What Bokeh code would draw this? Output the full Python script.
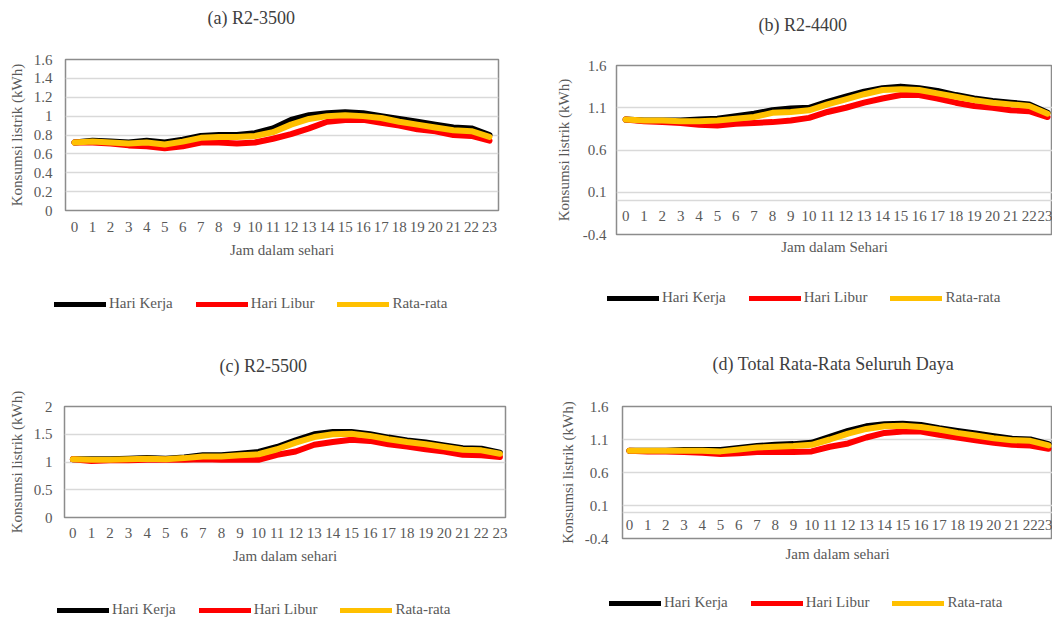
from bokeh.plotting import figure
from bokeh.models import (Range1d, FixedTicker, NumeralTickFormatter, Legend,
                          LegendItem, LinearAxis)
from bokeh.embed import file_html
from bokeh.resources import INLINE

hours = list(range(24))
series_names = ["Hari Kerja", "Hari Libur", "Rata-rata"]

a_title = "(a) R2-3500"
a_kerja = [0.72, 0.74, 0.73, 0.72, 0.74, 0.72, 0.75, 0.79, 0.80, 0.80, 0.82, 0.87,
           0.96, 1.01, 1.03, 1.04, 1.03, 1.00, 0.97, 0.94, 0.91, 0.88, 0.87, 0.80]
a_libur = [0.72, 0.72, 0.71, 0.69, 0.68, 0.66, 0.68, 0.72, 0.72, 0.71, 0.72, 0.76,
           0.81, 0.87, 0.94, 0.96, 0.96, 0.93, 0.90, 0.86, 0.84, 0.80, 0.79, 0.74]
a_rata = [0.72, 0.73, 0.72, 0.71, 0.72, 0.70, 0.73, 0.77, 0.78, 0.78, 0.79, 0.83,
          0.91, 0.97, 1.00, 1.01, 1.00, 0.98, 0.94, 0.91, 0.88, 0.85, 0.84, 0.78]
a_yticks = [0, 0.2, 0.4, 0.6, 0.8, 1, 1.2, 1.4, 1.6]

b_title = "(b) R2-4400"
b_kerja = [0.96, 0.95, 0.95, 0.95, 0.96, 0.97, 1.00, 1.03, 1.07, 1.09, 1.10, 1.17,
           1.23, 1.29, 1.33, 1.35, 1.33, 1.30, 1.25, 1.21, 1.18, 1.16, 1.14, 1.04]
b_libur = [0.96, 0.94, 0.93, 0.92, 0.90, 0.89, 0.91, 0.92, 0.93, 0.95, 0.98, 1.05,
           1.10, 1.16, 1.21, 1.25, 1.25, 1.21, 1.16, 1.12, 1.10, 1.07, 1.06, 0.99]
b_rata = [0.96, 0.95, 0.95, 0.94, 0.94, 0.95, 0.97, 0.99, 1.04, 1.05, 1.07, 1.14,
          1.20, 1.26, 1.31, 1.32, 1.31, 1.27, 1.23, 1.19, 1.16, 1.14, 1.12, 1.03]
b_yticks = [-0.4, 0.1, 0.6, 1.1, 1.6]

c_title = "(c) R2-5500"
c_kerja = [1.05, 1.05, 1.05, 1.06, 1.07, 1.06, 1.08, 1.12, 1.12, 1.15, 1.18, 1.27,
           1.39, 1.50, 1.54, 1.54, 1.50, 1.44, 1.39, 1.35, 1.30, 1.25, 1.24, 1.17]
c_libur = [1.05, 1.02, 1.03, 1.03, 1.04, 1.04, 1.04, 1.05, 1.04, 1.04, 1.04, 1.13,
           1.19, 1.31, 1.36, 1.40, 1.38, 1.32, 1.28, 1.23, 1.19, 1.13, 1.12, 1.09]
c_rata = [1.05, 1.04, 1.04, 1.05, 1.06, 1.05, 1.07, 1.10, 1.10, 1.12, 1.14, 1.23,
          1.35, 1.45, 1.50, 1.51, 1.47, 1.41, 1.36, 1.32, 1.27, 1.22, 1.21, 1.15]
c_yticks = [0, 0.5, 1, 1.5, 2]

d_title = "(d) Total Rata-Rata Seluruh Daya"
d_kerja = [0.93, 0.93, 0.93, 0.94, 0.94, 0.94, 0.97, 1.00, 1.02, 1.03, 1.05, 1.14,
           1.23, 1.30, 1.33, 1.34, 1.32, 1.27, 1.23, 1.19, 1.15, 1.11, 1.10, 1.03]
d_libur = [0.93, 0.92, 0.92, 0.91, 0.90, 0.88, 0.89, 0.91, 0.91, 0.91, 0.92, 0.99,
           1.04, 1.13, 1.20, 1.22, 1.22, 1.17, 1.13, 1.09, 1.05, 1.02, 1.01, 0.96]
d_rata = [0.93, 0.93, 0.93, 0.93, 0.93, 0.92, 0.95, 0.98, 0.99, 1.00, 1.02, 1.10,
          1.19, 1.26, 1.30, 1.31, 1.29, 1.25, 1.20, 1.16, 1.12, 1.09, 1.08, 1.01]
d_yticks = [-0.4, 0.1, 0.6, 1.1, 1.6]

y_label = "Konsumsi listrik (kWh)"

FONT = "Liberation Serif"
GREY = "#595959"
COLORS = ["#000000", "#ff0000", "#ffc000"]
LINE_W = 6


def style_axis(ax):
    ax.major_tick_line_color = None
    ax.minor_tick_line_color = None
    ax.major_tick_out = 0
    ax.minor_tick_out = 0
    ax.major_label_text_font = FONT
    ax.major_label_text_font_size = "15px"
    ax.major_label_text_color = GREY
    ax.axis_label_text_font = FONT
    ax.axis_label_text_font_size = "15px"
    ax.axis_label_text_font_style = "normal"
    ax.axis_label_text_color = GREY


def panel(title, series, yticks, xlabel, frame, borders, xr,
          t_off, t_stand, y_std, y_lstd, fixed, x_std, x_lstd):
    fl, fr, ft, fb = frame
    bl, br, bt, bb = borders
    p = figure(frame_width=fr - fl, frame_height=fb - ft, x_range=Range1d(*xr),
               y_range=Range1d(yticks[0], yticks[-1]),
               output_backend="svg", toolbar_location=None,
               min_border_left=bl, min_border_right=br,
               min_border_top=bt, min_border_bottom=bb, title=title,
               styles={"position": "absolute", "left": f"{fl - bl}px",
                       "top": f"{ft - bt}px"})
    p.title.align = "left"
    p.title.offset = t_off
    p.title.standoff = t_stand
    p.title.vertical_align = "middle"
    p.title.text_font = FONT
    p.title.text_font_size = "18px"
    p.title.text_font_style = "normal"
    p.title.text_color = "#404040"
    p.background_fill_color = "white"
    p.border_fill_color = None
    p.outline_line_color = "#8c8c8c"
    p.outline_line_width = 1.5

    for vals, col in zip(series, COLORS):
        p.line(hours, vals, line_color=col, line_width=LINE_W,
               line_join="round", line_cap="round")

    p.xgrid.visible = False
    p.ygrid.grid_line_color = "#d9d9d9"
    p.ygrid.grid_line_width = 1.5
    p.yaxis.ticker = FixedTicker(ticks=yticks)
    p.ygrid.ticker = FixedTicker(ticks=yticks)
    p.yaxis.formatter = NumeralTickFormatter(format="0.[0]")
    p.xaxis.ticker = FixedTicker(ticks=hours)

    style_axis(p.xaxis[0])
    style_axis(p.yaxis[0])

    p.yaxis.axis_line_color = None
    p.yaxis.axis_label = y_label
    p.yaxis.major_label_standoff = y_std
    p.yaxis.axis_label_standoff = y_lstd

    p.xaxis.major_label_standoff = x_std
    if fixed:
        p.xaxis.fixed_location = 0
        p.xaxis.axis_line_color = "#d9d9d9"
        p.xaxis.axis_line_width = 1.5
        ax2 = LinearAxis(ticker=FixedTicker(ticks=[]), axis_label=xlabel)
        style_axis(ax2)
        ax2.axis_line_color = None
        ax2.major_label_standoff = 0
        ax2.axis_label_standoff = x_lstd
        p.add_layout(ax2, "below")
    else:
        p.xaxis.axis_line_color = None
        p.xaxis.axis_label = xlabel
        p.xaxis.axis_label_standoff = x_lstd
    return p


def legend_box(series, left, center_y):
    # Legend-only strip: the series are drawn outside its (invisible) view,
    # only their legend glyphs and labels show.
    pad = 3
    q = figure(frame_width=420, frame_height=16 + 2 * pad,
               x_range=Range1d(100, 101), y_range=Range1d(100, 101),
               x_axis_type=None, y_axis_type=None, min_border=0,
               output_backend="svg", toolbar_location=None,
               styles={"position": "absolute", "left": f"{left - pad}px",
                       "top": f"{center_y - 8 - pad}px"})
    q.grid.visible = False
    q.outline_line_color = None
    q.background_fill_color = None
    q.border_fill_color = None
    rends = [q.line(hours, vals, line_color=col, line_width=LINE_W - 1,
                    line_cap="round", line_join="round")
             for vals, col in zip(series, COLORS)]
    legend = Legend(items=[LegendItem(label=n, renderers=[r])
                           for n, r in zip(series_names, rends)],
                    orientation="horizontal", location="top_left",
                    glyph_width=52, glyph_height=16, label_height=16,
                    padding=pad, spacing=23, label_standoff=3, margin=0,
                    border_line_color=None, background_fill_alpha=0,
                    label_text_font=FONT, label_text_font_size="15px",
                    label_text_color=GREY)
    q.add_layout(legend)
    return q


a_series = [a_kerja, a_libur, a_rata]
b_series = [b_kerja, b_libur, b_rata]
c_series = [c_kerja, c_libur, c_rata]
d_series = [d_kerja, d_libur, d_rata]

pa = panel(a_title, a_series, a_yticks, "Jam dalam sehari",
           (65, 498, 58, 209), (65, 42, 82, 60), (-0.5, 23.5),
           142, 61, 13, 6, False, 11, 7)
pb = panel(b_title, b_series, b_yticks, "Jam dalam Sehari",
           (616, 1052, 64, 233), (76, 0, 80, 40), (-0.5, 23.27),
           142, 59, 10, 8, True, 10, 4)
pc = panel(c_title, c_series, c_yticks, "Jam dalam sehari",
           (64, 505, 405, 516), (64, 35, 80, 60), (-0.45, 23.3),
           155, 59, 12, 6, False, 10, 7)
pd_ = panel(d_title, d_series, d_yticks, "Jam dalam sehari",
            (622, 1052, 405, 537), (82, 0, 84, 40), (-0.38, 23.22),
            90, 63, 14, 6, True, 8, 7)

la = legend_box(a_series, 57, 306)
lb = legend_box(b_series, 610, 300)
lc = legend_box(c_series, 60, 612)
ld = legend_box(d_series, 612, 605)

open("out.html", "w").write(file_html([pa, pb, pc, pd_, la, lb, lc, ld], INLINE))
